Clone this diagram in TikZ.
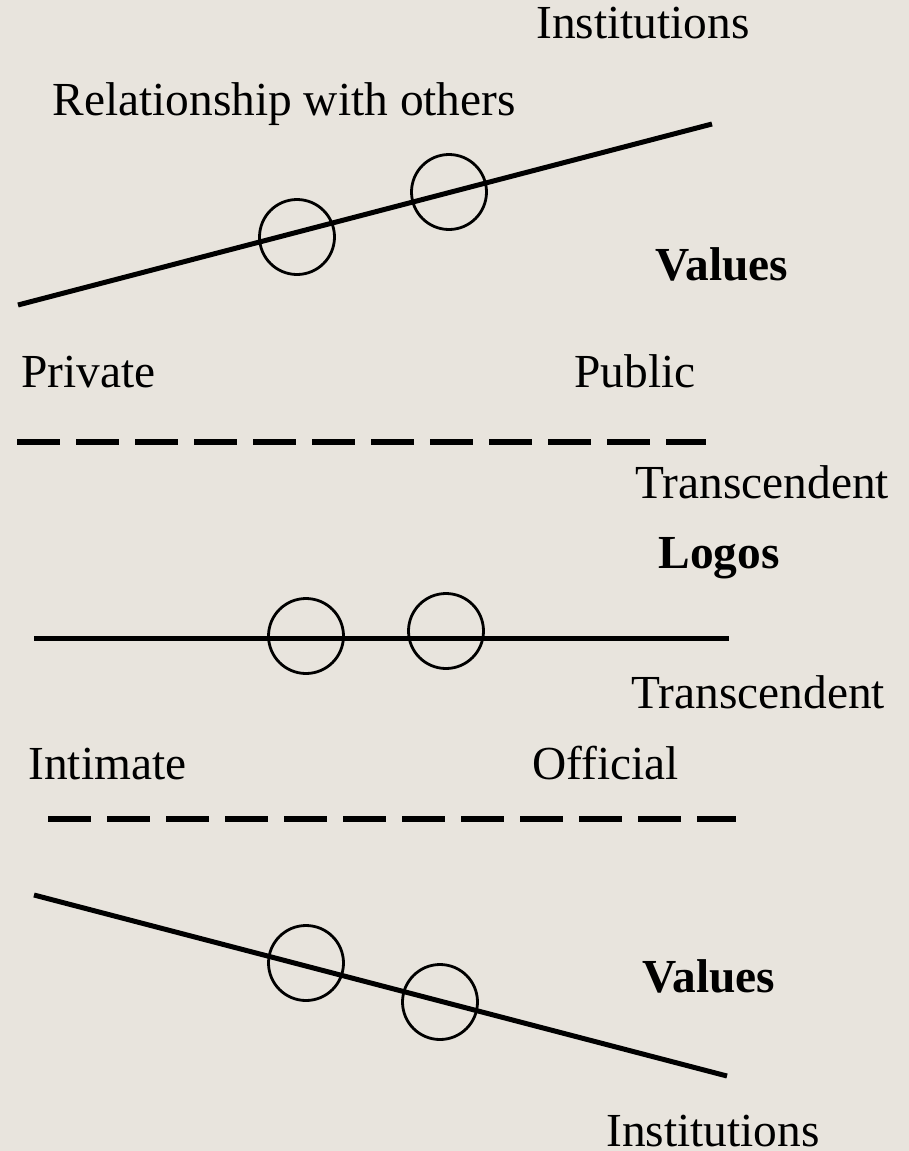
\documentclass[tikz,border=0pt]{standalone}
\usepackage{fontspec}
\setmainfont{Liberation Serif}
\definecolor{paper}{RGB}{232,228,221}

\begin{document}
\begin{tikzpicture}[
    x=0.5pt,y=-0.5pt,
    font=\fontsize{23.7}{28}\selectfont,
    lbl/.style={inner sep=0pt,anchor=base west},
    key/.style={lbl,font=\fontsize{23.7}{28}\selectfont\bfseries},
    ring/.style={draw,circle,line width=1.4pt,minimum size=37.5pt,inner sep=0pt},
    axis/.style={line width=2.5pt},
    divider/.style={line width=2.8pt,dash pattern=on 21.5pt off 8pt}
  ]
    \fill[paper] (0,0) rectangle (909,1151);
    \useasboundingbox (0,0) rectangle (909,1151);

    % rising scale
    \node[lbl] (insttop) at (536,39) {Institutions};
    \node[lbl] (rel) at (52,115) {Relationship with others};
    \coordinate (upa) at (18,305);
    \coordinate (upb) at (712,124);
    \draw[axis] (upa) -- (upb);
    \node[ring] (upone) at (297,237) {};
    \node[ring] (uptwo) at (449,192) {};
    \node[key] (valtop) at (655,280) {Values};
    \node[lbl] (priv) at (21,387) {Private};
    \node[lbl] (pub) at (574,387) {Public};

    \coordinate (dla) at (17,442);
    \coordinate (dlb) at (706,442);
    \draw[divider] (dla) -- (dlb);

    % flat scale
    \node[lbl] (transtop) at (635,498) {Transcendent};
    \node[key] (logos) at (658,568) {Logos};
    \coordinate (mida) at (34,638);
    \coordinate (midb) at (729,638);
    \draw[axis] (mida) -- (midb);
    \node[ring] (midone) at (306,636) {};
    \node[ring] (midtwo) at (446,631) {};
    \node[lbl] (transbot) at (631,708) {Transcendent};
    \node[lbl] (intim) at (28,779) {Intimate};
    \node[lbl] (offic) at (532,779) {Official};

    \coordinate (dma) at (48,819);
    \coordinate (dmb) at (736,819);
    \draw[divider] (dma) -- (dmb);

    % falling scale
    \coordinate (dna) at (34,895);
    \coordinate (dnb) at (727,1076);
    \draw[axis] (dna) -- (dnb);
    \node[ring] (dnone) at (306,963) {};
    \node[ring] (dntwo) at (440,1002) {};
    \node[key] (valbot) at (642,992) {Values};
    \node[lbl] (instbot) at (606,1146) {Institutions};
\end{tikzpicture}
\end{document}
